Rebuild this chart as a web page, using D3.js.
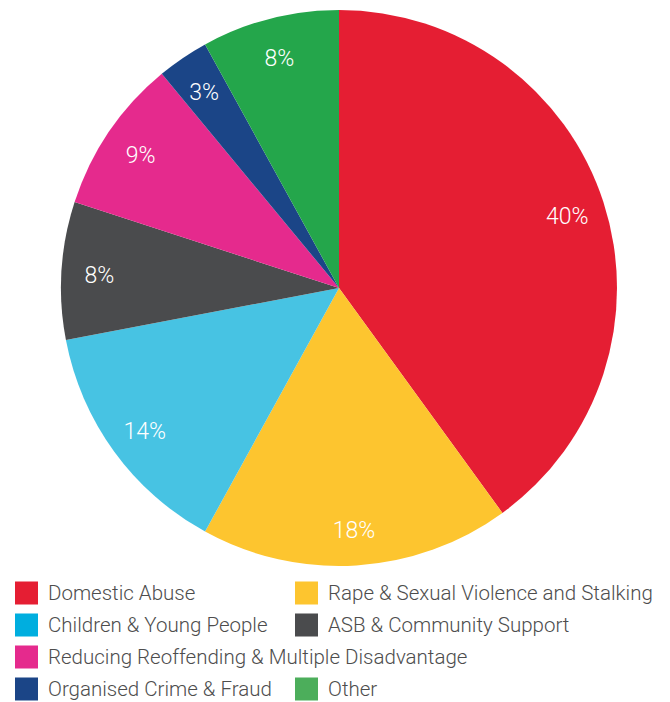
<!DOCTYPE html>
<html lang="en">
<head>
    <meta charset="utf-8">
    <title>Funding by category</title>
    <style>
        body { margin: 0; background: #fff; }
        text { font-family: Roboto, "Noto Sans", sans-serif; }
    </style>
    <script src="https://d3js.org/d3.v7.min.js"></script>
</head>
<body>
<div id="chart"></div>
<script>
    // data
    const categories = ["Domestic Abuse", "Rape & Sexual Violence and Stalking", "Children & Young People",
        "ASB & Community Support", "Reducing Reoffending & Multiple Disadvantage",
        "Organised Crime & Fraud", "Other"];
    const shares = [40, 18, 14, 8, 9, 3, 8];
    const sliceColors = ["#e51e33", "#fdc52f", "#47c3e3", "#4a4b4d", "#e52a8d", "#1b4587", "#24a64b"];
    const legendColors = ["#e51e33", "#fdc52f", "#00aedf", "#4a4b4d", "#e52a8d", "#1b4587", "#4cae5b"];
    // legend order as drawn (two columns, row by row)
    const legendOrder = [0, 1, 2, 3, 4, null, 5, 6];

    const width = 670, height = 702;
    const cx = 339, cy = 288, radius = 278;

    const svg = d3.select("#chart")
        .append("svg")
        .attr("width", width)
        .attr("height", height);

    const data = categories.map((c, i) => ({name: c, value: shares[i], i: i}));

    const pie = d3.pie()
        .value(d => d.value)
        .sort(null);

    const arc = d3.arc()
        .innerRadius(0)
        .outerRadius(radius);

    const labelArc = d3.arc()
        .innerRadius(240)
        .outerRadius(240);

    const g = svg.append("g")
        .attr("transform", `translate(${cx},${cy})`);

    g.selectAll("path")
        .data(pie(data))
        .join("path")
        .attr("fill", d => sliceColors[d.data.i])
        .attr("d", arc);

    g.selectAll("text")
        .data(pie(data))
        .join("text")
        .attr("transform", d => `translate(${labelArc.centroid(d)})`)
        .attr("text-anchor", "middle")
        .attr("dy", "0.45em")
        .attr("fill", "#fff")
        .attr("font-size", "23px")
        .attr("font-weight", 300)
        .text(d => d.data.value + "%");

    // legend
    const legend = svg.append("g");
    const colX = [15, 295], rowY0 = 593, rowStep = 32, box = 23;

    legendOrder.forEach((idx, k) => {
        if (idx === null) return;
        const col = k % 2, row = Math.floor(k / 2);
        const item = legend.append("g")
            .attr("transform", `translate(${colX[col]},${rowY0 + row * rowStep})`);
        item.append("rect")
            .attr("x", 0)
            .attr("y", -box / 2)
            .attr("width", box)
            .attr("height", box)
            .attr("fill", legendColors[idx]);
        item.append("text")
            .attr("x", 33)
            .attr("dy", "0.35em")
            .attr("font-size", "20.5px")
            .attr("font-weight", 300)
            .attr("fill", "#4d4d4d")
            .text(categories[idx]);
    });
</script>
</body>
</html>
